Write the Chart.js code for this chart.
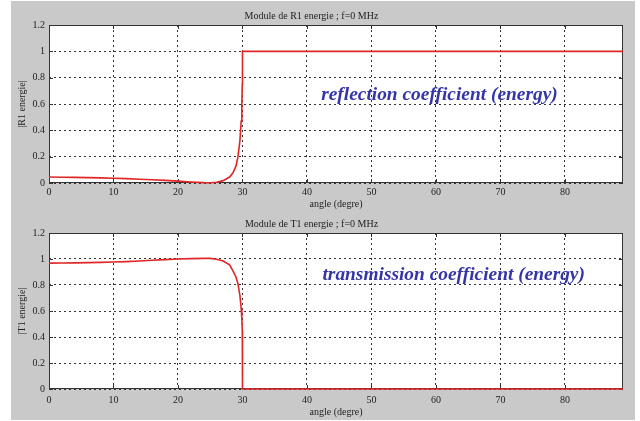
<!DOCTYPE html>
<html>
<head>
<meta charset="utf-8">
<script src="https://cdn.jsdelivr.net/npm/chart.js@4"></script>
<style>
  body { margin: 0; background: #fff; }
  #fig { position: absolute; left: 11px; top: 1px; width: 624px; height: 419px; background: #c9c9c9; }
  canvas { position: absolute; left: 0; }
  #topChart { top: 0; }
  #botChart { top: 210px; }
</style>
</head>
<body>
<div id="fig"></div>
<canvas id="topChart" width="640" height="210"></canvas>
<canvas id="botChart" width="640" height="211"></canvas>
<script>
// incidence angle (degrees)
const angles = [0, 2, 4, 6, 8, 10, 12, 14, 16, 18, 20,
    22, 24, 25, 26, 27, 28, 28.5, 29, 29.3, 29.6, 29.8, 29.9, 29.97, 30,
    35, 40, 50, 60, 70, 80, 89];

// |R1| energy
const reflR = [0.045, 0.044, 0.043, 0.041, 0.039, 0.036, 0.033, 0.029, 0.025, 0.02, 0.014,
    0.008, 0.003, 0.002, 0.006, 0.018, 0.045, 0.075, 0.13, 0.2, 0.32, 0.47, 0.6, 0.75, 1,
    1, 1, 1, 1, 1, 1, 1];

// |T1| energy
const transT = [0.968, 0.969, 0.97, 0.972, 0.974, 0.977, 0.98, 0.985, 0.99, 0.995, 1.0,
    1.003, 1.005, 1.005, 0.998, 0.985, 0.955, 0.91, 0.86, 0.81, 0.72, 0.62, 0.54, 0.45, 0,
    0, 0, 0, 0, 0, 0, 0];

const xTicks = [0, 10, 20, 30, 40, 50, 60, 70, 80];
const yTicks = [0, 0.2, 0.4, 0.6, 0.8, 1, 1.2];

const serif = 'Liberation Serif';

// white plot area, full box and inward tick marks
const boxPlugin = {
    id: 'box',
    beforeDraw(chart) {
        const a = chart.chartArea, ctx = chart.ctx;
        ctx.save();
        ctx.fillStyle = '#fff';
        ctx.fillRect(a.left, a.top, a.right - a.left, a.bottom - a.top);
        ctx.restore();
    },
    beforeDatasetsDraw(chart) {
        const a = chart.chartArea, ctx = chart.ctx;
        const sx = chart.scales.x, sy = chart.scales.y;
        const len = 4;
        ctx.save();
        ctx.strokeStyle = '#333';
        ctx.lineWidth = 1;
        ctx.strokeRect(a.left + 0.5, a.top + 0.5, a.right - a.left - 1, a.bottom - a.top - 1);
        ctx.beginPath();
        sx.ticks.forEach(t => {
            const px = Math.round(sx.getPixelForValue(t.value)) + 0.5;
            ctx.moveTo(px, a.bottom); ctx.lineTo(px, a.bottom - len);
            ctx.moveTo(px, a.top); ctx.lineTo(px, a.top + len);
        });
        sy.ticks.forEach(t => {
            const py = Math.round(sy.getPixelForValue(t.value)) + 0.5;
            ctx.moveTo(a.left, py); ctx.lineTo(a.left + len, py);
            ctx.moveTo(a.right, py); ctx.lineTo(a.right - len, py);
        });
        ctx.stroke();
        ctx.restore();
    }
};

// caption written inside the plot, anchored on data coordinates
const captionPlugin = {
    id: 'caption',
    afterDatasetsDraw(chart, args, opts) {
        const ctx = chart.ctx;
        const x = chart.scales.x.getPixelForValue(opts.x);
        const y = chart.scales.y.getPixelForValue(opts.y);
        ctx.save();
        ctx.font = 'italic bold 19.4px "' + serif + '"';
        ctx.fillStyle = '#3535a8';
        ctx.textBaseline = 'middle';
        ctx.fillText(opts.text, x, y);
        ctx.restore();
    }
};

function makeConfig(values, title, yLabel, caption, titlePad, xHeight, xTickPad, xTitlePad) {
    return {
        type: 'scatter',
        data: {
            datasets: [{
                data: angles.map((a, i) => ({ x: a, y: values[i] })),
                showLine: true,
                borderColor: '#e02626',
                borderWidth: 1.6,
                pointRadius: 0,
                tension: 0,
                clip: 2
            }]
        },
        options: {
            responsive: false,
            animation: false,
            layout: { padding: { left: 0, right: 17, top: 0, bottom: 0 } },
            plugins: {
                legend: { display: false },
                tooltip: { enabled: false },
                title: {
                    display: true,
                    text: title,
                    color: '#222',
                    font: { family: serif, size: 10, weight: 'normal', lineHeight: 1.2 },
                    padding: titlePad
                },
                caption: caption
            },
            scales: {
                x: {
                    min: 0,
                    max: 89,
                    afterBuildTicks: s => { s.ticks = xTicks.map(v => ({ value: v })); },
                    afterFit: s => { s.height = xHeight; },
                    grid: { color: '#333', drawTicks: false },
                    border: { display: false, dash: [2, 3] },
                    ticks: {
                        padding: xTickPad,
                        color: '#222',
                        maxRotation: 0,
                        font: { family: serif, size: 10 },
                        callback: v => String(v)
                    },
                    title: {
                        display: true,
                        text: 'angle (degre)',
                        color: '#222',
                        font: { family: serif, size: 10 },
                        padding: { top: 0, bottom: xTitlePad }
                    }
                },
                y: {
                    min: 0,
                    max: 1.2,
                    afterBuildTicks: s => { s.ticks = yTicks.map(v => ({ value: v })); },
                    afterFit: s => { s.width = 49; },
                    grid: { color: '#333', drawTicks: false },
                    border: { display: false, dash: [2, 3] },
                    ticks: {
                        padding: 4,
                        color: '#222',
                        font: { family: serif, size: 10 },
                        callback: v => String(v)
                    },
                    title: {
                        display: true,
                        text: yLabel,
                        color: '#222',
                        font: { family: serif, size: 10 },
                        padding: { top: 16, bottom: 0 }
                    }
                }
            }
        },
        plugins: [boxPlugin, captionPlugin]
    };
}

new Chart(document.getElementById('topChart'), makeConfig(
    reflR, 'Module de R1 energie ; f=0 MHz', '|R1 energie|',
    { text: 'reflection coefficient (energy)', x: 42.2, y: 0.67 },
    { top: 10, bottom: 3 }, 27, 3, 0));

new Chart(document.getElementById('botChart'), makeConfig(
    transT, 'Module de T1 energie ; f=0 MHz', '|T1 energie|',
    { text: 'transmission coefficient (energy)', x: 42.4, y: 0.88 },
    { top: 8, bottom: 3 }, 32, 5, 3));
</script>
</body>
</html>
